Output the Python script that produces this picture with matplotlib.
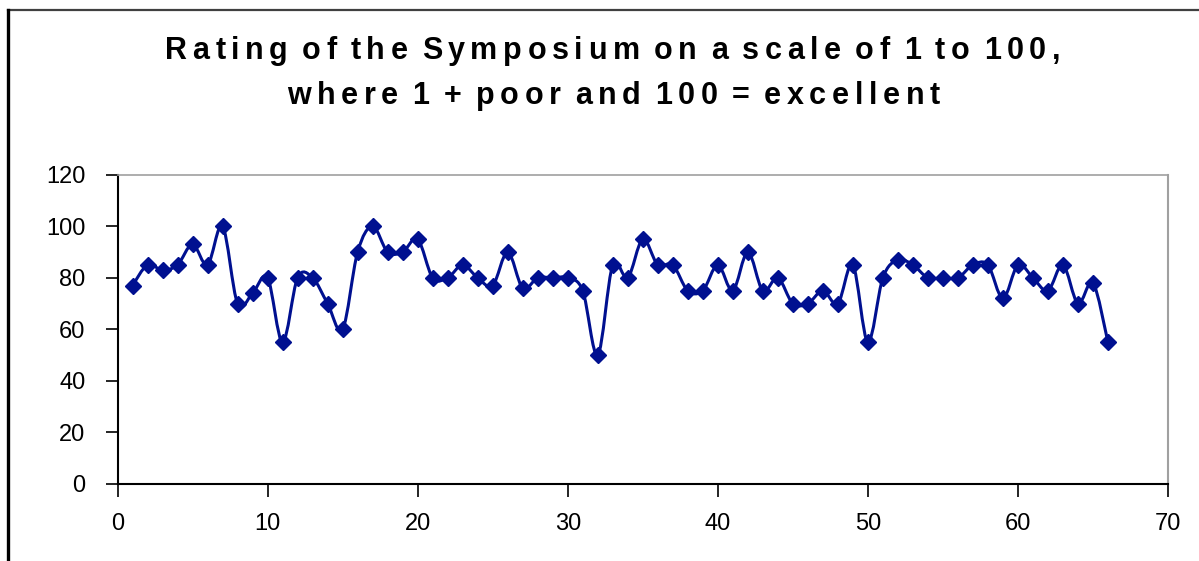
import matplotlib
matplotlib.use('Agg')
import numpy as np
import matplotlib.pyplot as plt
from matplotlib.path import Path
from matplotlib.patches import PathPatch
from matplotlib.lines import Line2D
from matplotlib import font_manager

# ---------------------------------------------------------------
# data
respondent = list(range(1, 67))
rating = [77, 85, 83, 85, 93, 85, 100, 70, 74, 80,
          55, 80, 80, 70, 60, 90, 100, 90, 90, 95,
          80, 80, 85, 80, 77, 90, 76, 80, 80, 80,
          75, 50, 85, 80, 95, 85, 85, 75, 75, 85,
          75, 90, 75, 80, 70, 70, 75, 70, 85, 55,
          80, 87, 85, 80, 80, 80, 85, 85, 72, 85,
          80, 75, 85, 70, 78, 55]

title_lines = ['Rating of the Symposium on a scale of 1 to 100,',
               'where 1 + poor and 100 = excellent']
xticks = [0, 10, 20, 30, 40, 50, 60, 70]
yticks = [0, 20, 40, 60, 80, 100, 120]

navy = '#001090'

W, H = 1199, 561
fig = plt.figure(figsize=(W/100, H/100), dpi=100)
ax = fig.add_axes([117.5/W, 1-484/H, (1168-117.5)/W, (484-174.7)/H])

# smoothed line (Excel style bezier through the points)
x = np.array(respondent, dtype=float)
y = np.array(rating, dtype=float)
verts = [(x[0], y[0])]
codes = [Path.MOVETO]
for i in range(len(x)-1):
  p0 = np.array([x[max(i-1, 0)], y[max(i-1, 0)]])
  p1 = np.array([x[i], y[i]])
  p2 = np.array([x[i+1], y[i+1]])
  p3 = np.array([x[min(i+2, len(x)-1)], y[min(i+2, len(x)-1)]])
  c1 = p1 + (p2-p0)/6.0
  c2 = p2 - (p3-p1)/6.0
  verts += [tuple(c1), tuple(c2), tuple(p2)]
  codes += [Path.CURVE4]*3
ax.add_patch(PathPatch(Path(verts, codes), facecolor='none', edgecolor=navy, lw=2.2, zorder=3))
ax.plot(x, y, linestyle='none', marker='D', markersize=8.5, color=navy, zorder=4)

ax.set_xlim(0, 70)
ax.set_ylim(0, 120)
ax.set_xticks(xticks)
ax.set_yticks(yticks)
ax.tick_params(direction='out', length=9, width=1.2, labelsize=17, colors='black')
ax.tick_params(axis='y', pad=14)
ax.tick_params(axis='x', pad=12)
for lab in ax.get_xticklabels()+ax.get_yticklabels():
  lab.set_family('Liberation Sans')
ax.spines['left'].set_color('black')
ax.spines['bottom'].set_color('black')
ax.spines['left'].set_linewidth(1.5)
ax.spines['bottom'].set_linewidth(1.5)
ax.spines['top'].set_color('#a0a0a0')
ax.spines['right'].set_color('#a0a0a0')
ax.spines['top'].set_linewidth(1.2)
ax.spines['right'].set_linewidth(1.5)

# outer chart border (top and left only visible)
fig.add_artist(Line2D([8/W, 1.0], [1-10/H, 1-10/H], transform=fig.transFigure, color='#404040', lw=1.6))
fig.add_artist(Line2D([8/W, 8/W], [0.0, 1-10/H], transform=fig.transFigure, color='black', lw=2.4))

# title, drawn character by character to get the wide letter spacing
renderer = fig.canvas.get_renderer()
fp = font_manager.FontProperties(family='Liberation Sans', weight='bold', size=22)
targets = [(165, 1060, 51), (287, 940, 96)]
for line, (x0, x1, yc) in zip(title_lines, targets):
  natural = renderer.get_text_width_height_descent(line, fp, ismath=False)[0]
  ngaps = sum(1 for i in range(1, len(line)) if line[i] != ' ')
  gap = (x1-x0-natural)/ngaps
  k = 0
  for i, ch in enumerate(line):
    if i > 0 and ch != ' ':
      k += 1
    if ch == ' ':
      continue
    pre = renderer.get_text_width_height_descent(line[:i], fp, ismath=False)[0] if i > 0 else 0.0
    px = x0 + pre + k*gap
    fig.text(px/W, 1-yc/H, ch, fontproperties=fp, ha='left', va='center', color='black')

fig.savefig('out.png', dpi=100)
